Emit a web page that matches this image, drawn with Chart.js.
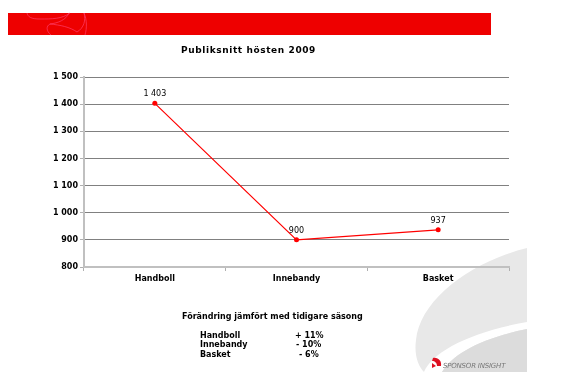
<!DOCTYPE html>
<html>
<head>
<meta charset="utf-8">
<script src="https://cdn.jsdelivr.net/npm/chart.js@4/dist/chart.umd.min.js"></script>
<style>
  body { margin: 0; background: #fff; font-family: "DejaVu Sans", Verdana, sans-serif; }
  #wrap { position: relative; width: 561px; height: 381px; overflow: hidden; }
  #deco, #chart { position: absolute; left: 0; top: 0; }
  .txt { position: absolute; font-size: 8px; font-weight: bold; color: #000; white-space: nowrap; }
  #title { left: 0; width: 497px; top: 45px; text-align: center; font-size: 9px; letter-spacing: 0.6px; }
  #logo { position: absolute; left: 443px; top: 362px; font-size: 7px; color: #777; font-style: italic; letter-spacing: -0.2px; }
</style>
</head>
<body>
<div id="wrap">
  <svg id="deco" width="561" height="381">
    <rect x="8" y="13" width="483" height="22" fill="#ee0000"/>
    <path d="M27,13 C28,17 31,19 40,19 C52,19 62,19 70,13" fill="none" stroke="#ff3d6a" stroke-width="0.7"/>
    <path d="M69,13 C66,20 58,23 50,24 C46,26 46,31 51,35" fill="none" stroke="#ff3d6a" stroke-width="0.7"/>
    <path d="M50,24 C60,25 70,27 77,32 C84,28 86,20 84,13" fill="none" stroke="#ff3d6a" stroke-width="0.7"/>
    <path d="M84,13 C87,20 87,28 85,35" fill="none" stroke="#ff3d6a" stroke-width="0.7"/>
    <path d="M527,248 C470,262 420,300 416,340 C414,355 418,366 424,372 L527,372 Z" fill="#e8e8e8"/>
    <path d="M424,372 C432,352 470,332 527,322 L527,329 C482,338 452,354 442,372 Z" fill="#ffffff"/>
    <path d="M442,372 C452,354 482,338 527,329 L527,372 Z" fill="#dcdcdc"/>
    <path d="M433,358 C438,357 442,361 441,366 L437,366 C437,363 435,361 432,361 Z" fill="#dd1122"/>
    <path d="M432,363 L436,366 L432,368 Z" fill="#dd1122"/>
  </svg>
  <canvas id="chart" width="561" height="381"></canvas>
  <div class="txt" id="title">Publiksnitt hösten 2009</div>
  <div class="txt" style="left:182px; top:312px;">Förändring jämfört med tidigare säsong</div>
  <div class="txt" style="left:200px; top:331px;">Handboll</div>
  <div class="txt" style="left:200px; top:340px;">Innebandy</div>
  <div class="txt" style="left:200px; top:350px;">Basket</div>
  <div class="txt" style="left:295px; top:331px;">+ 11%</div>
  <div class="txt" style="left:296px; top:340px;">- 10%</div>
  <div class="txt" style="left:299px; top:350px;">- 6%</div>
  <div id="logo">SPONSOR INSIGHT</div>
</div>
<script>
const categories = ["Handboll", "Innebandy", "Basket"];
const publiksnitt = [1403, 900, 937];
const yMin = 800;
const yMax = 1500;
const yStep = 100;

const fmt = v => String(v).replace(/\B(?=(\d{3})+(?!\d))/g, " ");

const valueLabels = {
  id: "valueLabels",
  afterDatasetsDraw(chart) {
    const ctx = chart.ctx;
    const meta = chart.getDatasetMeta(0);
    ctx.save();
    ctx.font = "8px 'DejaVu Sans', sans-serif";
    ctx.fillStyle = "#000";
    ctx.textAlign = "center";
    ctx.textBaseline = "bottom";
    meta.data.forEach((pt, i) => {
      ctx.fillText(fmt(chart.data.datasets[0].data[i]), pt.x, pt.y - 5);
    });
    ctx.restore();
  }
};

new Chart(document.getElementById("chart"), {
  type: "line",
  data: {
    labels: categories,
    datasets: [{
      data: publiksnitt,
      borderColor: "#ff0000",
      backgroundColor: "#ff0000",
      borderWidth: 1.2,
      pointRadius: 2.5,
      pointBackgroundColor: "#ff0000",
      pointBorderWidth: 0,
      tension: 0
    }]
  },
  options: {
    responsive: false,
    animation: false,
    layout: { padding: { top: 77, right: 52, bottom: 94, left: 0 } },
    plugins: { legend: { display: false }, tooltip: { enabled: false } },
    scales: {
      x: {
        offset: true,
        grid: { offset: true, drawOnChartArea: false, drawTicks: true, tickLength: 4, color: "#b0b0b0" },
        border: { color: "#c0c0c0", width: 2 },
        ticks: { color: "#000", padding: 3, font: { family: "'DejaVu Sans', sans-serif", size: 8, weight: "bold" } },
        afterFit(scale) { scale.height = 20; }
      },
      y: {
        min: yMin,
        max: yMax,
        grid: {
          color: ctx => ctx.tick && ctx.tick.value === yMin ? "rgba(0,0,0,0)" : "#808080",
          tickColor: "#b0b0b0",
          tickLength: 4,
          lineWidth: 1
        },
        border: { color: "#c0c0c0", width: 2 },
        ticks: {
          stepSize: yStep,
          color: "#000",
          padding: 2,
          font: { family: "'DejaVu Sans', sans-serif", size: 8, weight: "bold" },
          callback: v => fmt(v)
        },
        afterFit(scale) { scale.width = 84; }
      }
    }
  },
  plugins: [valueLabels]
});
</script>
</body>
</html>
